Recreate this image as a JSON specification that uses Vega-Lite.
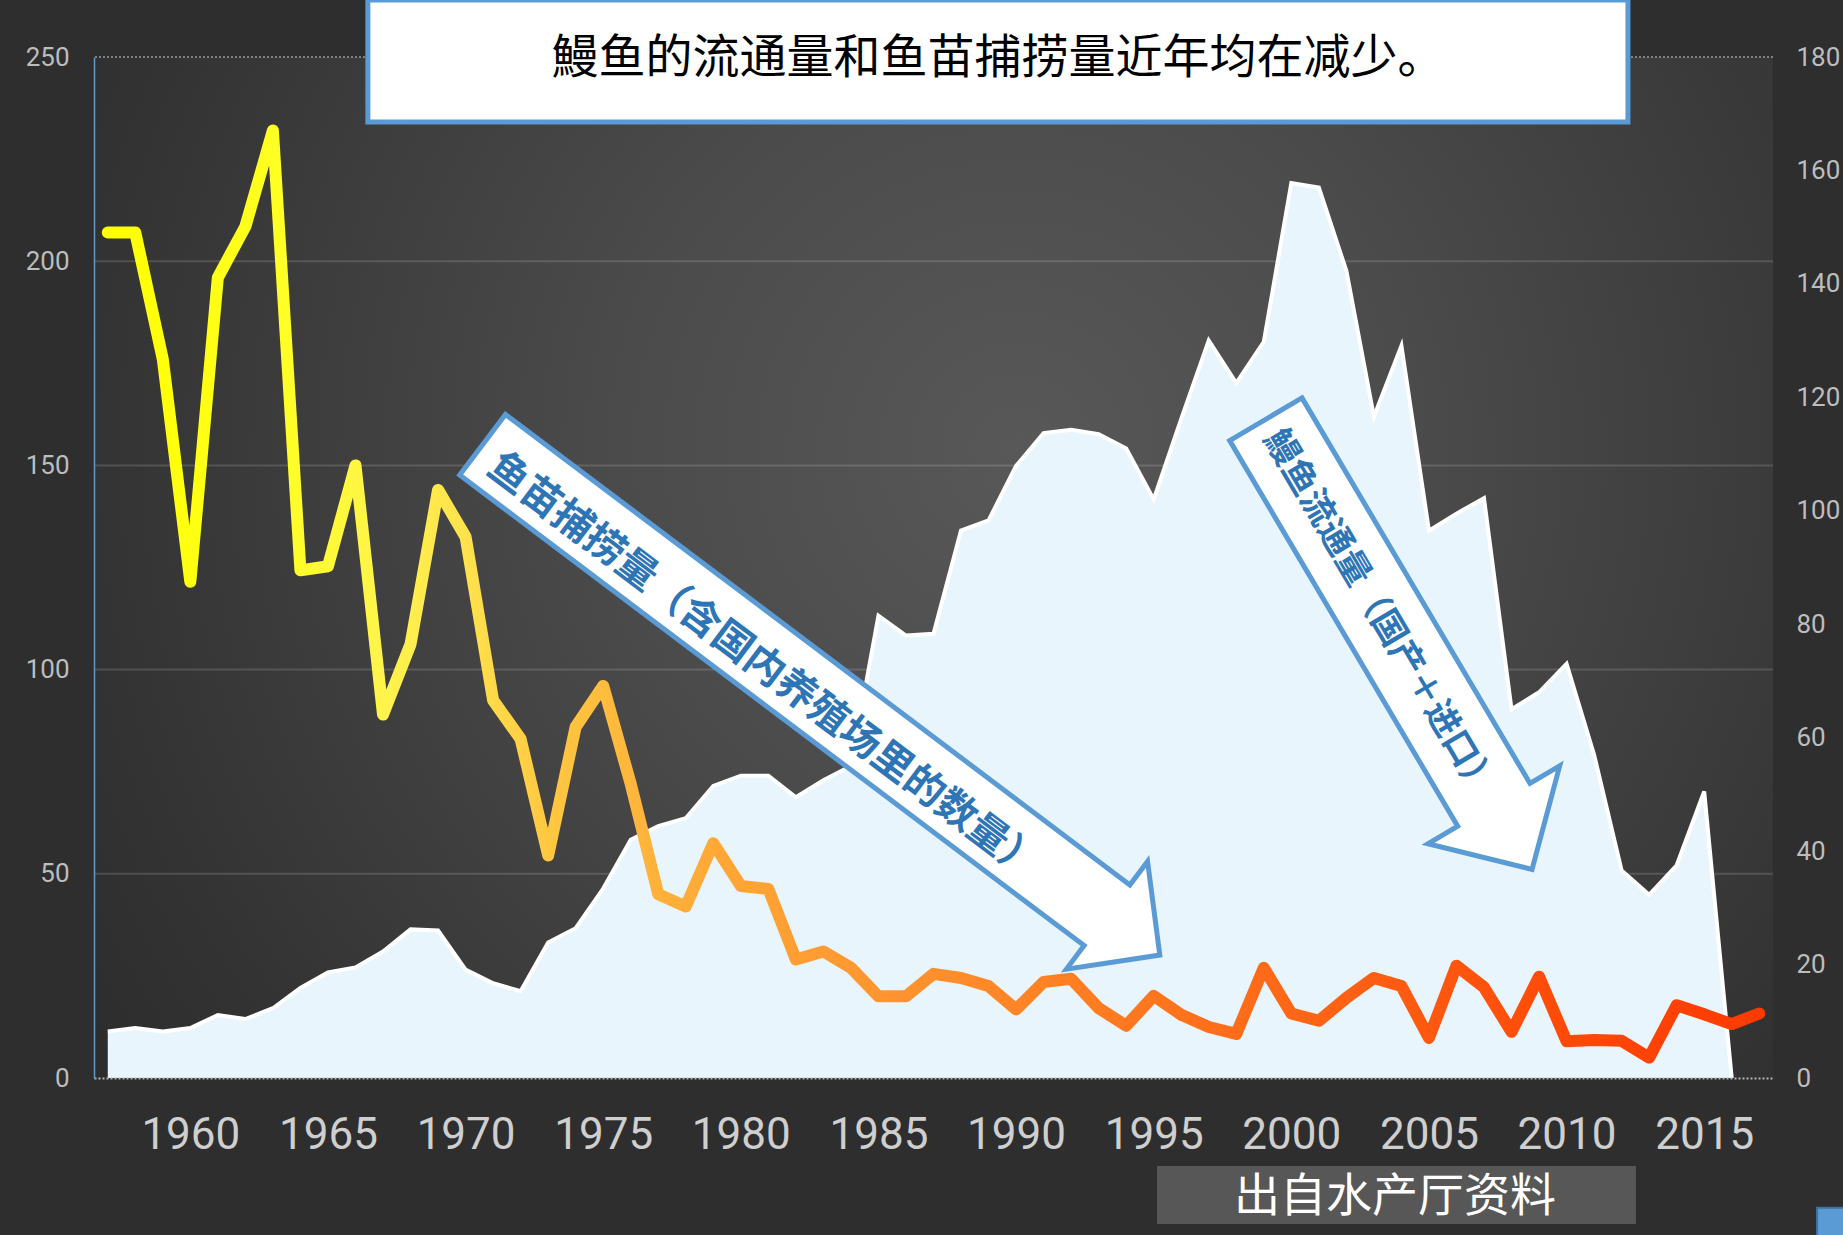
{
  "$schema": "https://vega.github.io/schema/vega-lite/v6.json",
  "width": 1679,
  "height": 1021,
  "autosize": {"type": "none"},
  "padding": {"left": 94, "top": 57, "right": 70, "bottom": 157},
  "background": "#2e2e2e",
  "config": {"view": {"stroke": null}},
  "datasets": {
    "eel": [
      {"year": 1957, "catch": 207, "supply": 8.2},
      {"year": 1958, "catch": 207, "supply": 8.8},
      {"year": 1959, "catch": 176, "supply": 8.2},
      {"year": 1960, "catch": 121.5, "supply": 8.8},
      {"year": 1961, "catch": 196, "supply": 11.1},
      {"year": 1962, "catch": 208.5, "supply": 10.4},
      {"year": 1963, "catch": 232, "supply": 12.3},
      {"year": 1964, "catch": 124.3, "supply": 15.9},
      {"year": 1965, "catch": 125.3, "supply": 18.6},
      {"year": 1966, "catch": 150, "supply": 19.5},
      {"year": 1967, "catch": 89, "supply": 22.3},
      {"year": 1968, "catch": 106.2, "supply": 26.2},
      {"year": 1969, "catch": 144, "supply": 26},
      {"year": 1970, "catch": 132.5, "supply": 19.1},
      {"year": 1971, "catch": 92.5, "supply": 16.7},
      {"year": 1972, "catch": 83, "supply": 15.3},
      {"year": 1973, "catch": 54.5, "supply": 23.9},
      {"year": 1974, "catch": 86, "supply": 26.4},
      {"year": 1975, "catch": 96, "supply": 33.4},
      {"year": 1976, "catch": 72, "supply": 42},
      {"year": 1977, "catch": 45, "supply": 44.4},
      {"year": 1978, "catch": 42, "supply": 45.8},
      {"year": 1979, "catch": 57.5, "supply": 51.5},
      {"year": 1980, "catch": 47, "supply": 53.3},
      {"year": 1981, "catch": 46.3, "supply": 53.3},
      {"year": 1982, "catch": 29, "supply": 49.5},
      {"year": 1983, "catch": 31, "supply": 52.5},
      {"year": 1984, "catch": 27, "supply": 55},
      {"year": 1985, "catch": 20, "supply": 81.5},
      {"year": 1986, "catch": 20, "supply": 78},
      {"year": 1987, "catch": 25.5, "supply": 78.3},
      {"year": 1988, "catch": 24.5, "supply": 96.5},
      {"year": 1989, "catch": 22.5, "supply": 98.3},
      {"year": 1990, "catch": 16.8, "supply": 107.9},
      {"year": 1991, "catch": 23.5, "supply": 113.7},
      {"year": 1992, "catch": 24.3, "supply": 114.3},
      {"year": 1993, "catch": 17.1, "supply": 113.5},
      {"year": 1994, "catch": 12.8, "supply": 111},
      {"year": 1995, "catch": 20.1, "supply": 102},
      {"year": 1996, "catch": 15.5, "supply": 116.2},
      {"year": 1997, "catch": 12.5, "supply": 130},
      {"year": 1998, "catch": 10.8, "supply": 122.5},
      {"year": 1999, "catch": 27, "supply": 129.8},
      {"year": 2000, "catch": 15.8, "supply": 157.8},
      {"year": 2001, "catch": 14, "supply": 157},
      {"year": 2002, "catch": 19.6, "supply": 142.3},
      {"year": 2003, "catch": 24.5, "supply": 116.6},
      {"year": 2004, "catch": 22.5, "supply": 129.1},
      {"year": 2005, "catch": 9.8, "supply": 96.5},
      {"year": 2006, "catch": 27.5, "supply": 99.5},
      {"year": 2007, "catch": 22.2, "supply": 102.2},
      {"year": 2008, "catch": 11.3, "supply": 65},
      {"year": 2009, "catch": 24.8, "supply": 68},
      {"year": 2010, "catch": 9, "supply": 73},
      {"year": 2011, "catch": 9.3, "supply": 57},
      {"year": 2012, "catch": 9.1, "supply": 36.6},
      {"year": 2013, "catch": 5, "supply": 32.3},
      {"year": 2014, "catch": 17.8, "supply": 37.5},
      {"year": 2015, "catch": 15.6, "supply": 50.5},
      {"year": 2016, "catch": 13.2, "supply": 0},
      {"year": 2017, "catch": 15.8, "supply": null}
    ],
    "grid": [{"g": 50}, {"g": 100}, {"g": 150}, {"g": 200}],
    "one": [{"k": 1}]
  },
  "layer": [
    {
      "layer": [
        {
          "data": {"name": "one"},
          "mark": {
            "type": "rect",
            "fill": {
              "gradient": "radial",
              "x1": 0.55, "y1": 0.43, "r1": 0,
              "x2": 0.55, "y2": 0.43, "r2": 0.72,
              "stops": [
                {"offset": 0, "color": "#585858"},
                {"offset": 0.33, "color": "#4b4b4b"},
                {"offset": 0.57, "color": "#3e3e3e"},
                {"offset": 0.77, "color": "#333333"},
                {"offset": 1, "color": "#292929"}
              ]
            }
          },
          "encoding": {
            "x": {"datum": 1956.5, "type": "quantitative", "scale": {"domain": [1956.5, 2017.5], "nice": false}},
            "x2": {"datum": 2017.5},
            "y": {"datum": 0, "type": "quantitative", "scale": {"domain": [0, 250], "nice": false}, "axis": null},
            "y2": {"datum": 250}
          }
        },
        {
          "data": {"name": "grid"},
          "mark": {"type": "rule", "color": "#ffffff", "opacity": 0.14, "strokeWidth": 2},
          "encoding": {"y": {"field": "g", "type": "quantitative", "axis": null}}
        },
        {
          "data": {"name": "one"},
          "mark": {"type": "rule", "color": "#9a9a9a", "strokeWidth": 1.5, "strokeDash": [2, 2]},
          "encoding": {"y": {"datum": 250, "type": "quantitative", "axis": null}}
        }
      ]
    },
    {
      "data": {"name": "eel"},
      "mark": {"type": "area", "color": "#e9f5fc", "opacity": 1, "line": {"color": "#ffffff", "strokeWidth": 4}},
      "encoding": {
        "x": {"field": "year", "type": "quantitative", "scale": {"domain": [1956.5, 2017.5], "nice": false}},
        "y": {
          "field": "supply", "type": "quantitative",
          "scale": {"domain": [0, 180], "nice": false},
          "axis": {
            "orient": "right", "title": null,
            "values": [0, 20, 40, 60, 80, 100, 120, 140, 160, 180],
            "labelFont": "Liberation Sans Narrow, Roboto, Noto Sans",
            "labelFontSize": 26, "labelColor": "#bdbdbd", "labelPadding": 23,
            "ticks": false, "domain": false, "grid": false
          }
        }
      }
    },
    {
      "layer": [
        {
          "data": {"name": "eel"},
          "mark": {
            "type": "line", "strokeWidth": 12, "strokeCap": "round", "strokeJoin": "round",
            "color": {
              "gradient": "linear", "x1": 0, "y1": 0, "x2": 1, "y2": 0,
              "stops": [
                {"offset": 0, "color": "#ffff00"},
                {"offset": 0.1, "color": "#ffff22"},
                {"offset": 0.17, "color": "#fff34d"},
                {"offset": 0.22, "color": "#ffe04c"},
                {"offset": 0.27, "color": "#ffc640"},
                {"offset": 0.33, "color": "#ffb23a"},
                {"offset": 0.38, "color": "#ffa535"},
                {"offset": 0.47, "color": "#ff9530"},
                {"offset": 0.55, "color": "#ff8526"},
                {"offset": 0.63, "color": "#ff761e"},
                {"offset": 0.72, "color": "#ff6616"},
                {"offset": 0.8, "color": "#ff580f"},
                {"offset": 0.88, "color": "#ff4a08"},
                {"offset": 1, "color": "#ff3a00"}
              ]
            }
          },
          "encoding": {
            "x": {
              "field": "year", "type": "quantitative",
              "scale": {"domain": [1956.5, 2017.5], "nice": false},
              "axis": {
                "orient": "bottom", "title": null,
                "values": [1960, 1965, 1970, 1975, 1980, 1985, 1990, 1995, 2000, 2005, 2010, 2015],
                "format": "d", "labelFlush": false, "labelOverlap": false,
                "labelFont": "Liberation Sans Narrow, Roboto, Noto Sans",
                "labelFontSize": 44, "labelColor": "#cfcfcf", "labelPadding": 35,
                "ticks": false, "grid": false,
                "domain": true, "domainColor": "#b5b5b5", "domainDash": [2, 2], "domainWidth": 2,
                "zindex": 1
              }
            },
            "y": {
              "field": "catch", "type": "quantitative",
              "scale": {"domain": [0, 250], "nice": false},
              "axis": {
                "orient": "left", "title": null,
                "values": [0, 50, 100, 150, 200, 250],
                "labelFont": "Liberation Sans Narrow, Roboto, Noto Sans",
                "labelFontSize": 26, "labelColor": "#bdbdbd", "labelPadding": 25,
                "ticks": false, "grid": false,
                "domain": true, "domainColor": "#5b9bd5", "domainWidth": 1.5,
                "zindex": 1
              }
            }
          }
        },
        {
          "data": {"name": "one"},
          "mark": {
            "type": "point",
            "shape": "M -1 -0.0896 L 0.844 -0.0896 L 0.844 -0.159 L 1 0 L 0.844 0.159 L 0.844 0.0896 L -1 0.0896 Z",
            "size": 719104, "angle": 37, "filled": true,
            "fill": "#ffffff", "stroke": "#5b9bd5", "strokeWidth": 5, "opacity": 1
          },
          "encoding": {
            "x": {"datum": 1982.92, "type": "quantitative"},
            "y": {"datum": 92.58, "type": "quantitative"}
          }
        },
        {
          "data": {"name": "one"},
          "mark": {
            "type": "point",
            "shape": "M -1 -0.1606 L 0.713 -0.1606 L 0.713 -0.2925 L 1 0 L 0.713 0.2925 L 0.713 0.1606 L -1 0.1606 Z",
            "size": 273529, "angle": 59.4, "filled": true,
            "fill": "#ffffff", "stroke": "#5b9bd5", "strokeWidth": 5, "opacity": 1
          },
          "encoding": {
            "x": {"datum": 2003.91, "type": "quantitative"},
            "y": {"datum": 106.19, "type": "quantitative"}
          }
        },
        {
          "data": {"name": "one"},
          "mark": {
            "type": "text", "text": "鱼苗捕捞量（含国内养殖场里的数量）",
            "font": "Noto Sans CJK SC", "fontSize": 40, "fontWeight": "bold",
            "angle": 37, "color": "#2e75b6", "align": "center", "baseline": "middle"
          },
          "encoding": {
            "x": {"datum": 1980.84, "type": "quantitative"},
            "y": {"datum": 100.64, "type": "quantitative"}
          }
        },
        {
          "data": {"name": "one"},
          "mark": {
            "type": "text", "text": "鰻鱼流通量（国产＋进口）",
            "font": "Noto Sans CJK SC", "fontSize": 35, "fontWeight": "bold",
            "angle": 59.4, "color": "#2e75b6", "align": "center", "baseline": "middle"
          },
          "encoding": {
            "x": {"datum": 2003.2, "type": "quantitative"},
            "y": {"datum": 113.74, "type": "quantitative"}
          }
        },
        {
          "data": {"name": "one"},
          "mark": {"type": "rect", "fill": "#ffffff", "stroke": "#5b9bd5", "strokeWidth": 5},
          "encoding": {
            "x": {"datum": 1966.45, "type": "quantitative"},
            "x2": {"datum": 2012.23},
            "y": {"datum": 263.96, "type": "quantitative"},
            "y2": {"datum": 234.08}
          }
        },
        {
          "data": {"name": "one"},
          "mark": {
            "type": "text", "text": "鰻鱼的流通量和鱼苗捕捞量近年均在减少。",
            "font": "Noto Sans CJK SC", "fontSize": 47, "color": "#000000",
            "align": "center", "baseline": "middle"
          },
          "encoding": {
            "x": {"datum": 1989.34, "type": "quantitative"},
            "y": {"datum": 249.51, "type": "quantitative"}
          }
        },
        {
          "data": {"name": "one"},
          "mark": {"type": "rect", "fill": "#575757"},
          "encoding": {
            "x": {"datum": 1995.12, "type": "quantitative"},
            "x2": {"datum": 2012.52},
            "y": {"datum": -21.55, "type": "quantitative"},
            "y2": {"datum": -35.75}
          }
        },
        {
          "data": {"name": "one"},
          "mark": {
            "type": "text", "text": "出自水产厅资料",
            "font": "Noto Sans CJK SC", "fontSize": 46, "color": "#ffffff",
            "align": "center", "baseline": "middle"
          },
          "encoding": {
            "x": {"datum": 2003.77, "type": "quantitative"},
            "y": {"datum": -29.2, "type": "quantitative"}
          }
        },
        {
          "data": {"name": "one"},
          "mark": {"type": "rect", "fill": "#5b9bd5", "stroke": "#41719c", "strokeWidth": 2},
          "encoding": {
            "x": {"datum": 2019.1, "type": "quantitative"},
            "x2": {"datum": 2020.5},
            "y": {"datum": -31.8, "type": "quantitative"},
            "y2": {"datum": -41}
          }
        }
      ]
    }
  ],
  "resolve": {"scale": {"y": "independent"}}
}
